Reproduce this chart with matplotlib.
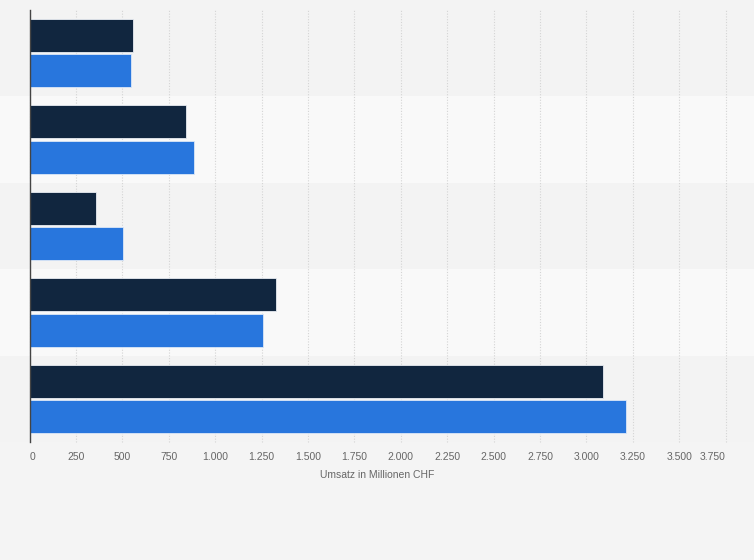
import numpy as np
import matplotlib
matplotlib.use("Agg")
import matplotlib.pyplot as plt
from matplotlib.patches import Rectangle
from matplotlib.transforms import blended_transform_factory
from matplotlib.ticker import FuncFormatter

plt.rcParams['font.family'] = ['Liberation Sans', 'DejaVu Sans']

# values (Mio. CHF)
series_a = [558, 845, 358, 1328, 3090]   # dark
series_b = [548, 887, 505, 1258, 3215]   # blue
n_groups = len(series_a)
xticks = [0, 250, 500, 750, 1000, 1250, 1500, 1750, 2000, 2250, 2500, 2750, 3000, 3250, 3500, 3750]

dark = '#11263f'
blue = '#2876dd'

fig = plt.figure(figsize=(7.54, 5.6), dpi=100)
fig.patch.set_facecolor('#f4f4f4')
ax = fig.add_axes([29.5 / 754, (560 - 442) / 560, (725.7 - 29.5) / 754, 432 / 560])
ax.set_facecolor('none')

# alternating bands across full width
tr = blended_transform_factory(fig.transFigure, ax.transData)
for i in range(n_groups):
    col = '#f3f3f3' if i % 2 == 0 else '#f9f9f9'
    top = i - 0.5 if i > 0 else -0.62
    ax.add_patch(Rectangle((0, top), 1, (i + 0.5) - top, transform=tr,
                           facecolor=col, edgecolor='none', clip_on=False, zorder=0))

y = np.arange(n_groups)
h = 0.38
ax.barh(y - 0.205, series_a, height=h, color=dark, edgecolor='#e8ecf2', linewidth=0.6, zorder=3)
ax.barh(y + 0.205, series_b, height=h, color=blue, edgecolor='#dbe7f7', linewidth=0.6, zorder=3)

ax.set_xlim(0, 3750)
ax.set_ylim(n_groups - 0.5, -0.5)
ax.set_xticks(xticks)
ax.xaxis.set_major_formatter(FuncFormatter(lambda v, p: f"{int(v):,}".replace(',', '.')))
ax.set_yticks([])
ax.grid(axis='x', color='#d4d4d4', linestyle=(0, (1, 1.5)), linewidth=0.8, zorder=1)
for gl in ax.get_xgridlines():
    gl.set_clip_on(False)
ax.tick_params(axis='x', length=0, pad=7, labelsize=7.5, labelcolor='#666666')
for s in ['top', 'right', 'bottom']:
    ax.spines[s].set_visible(False)
ax.spines['left'].set_color('#444444')
ax.spines['left'].set_linewidth(1.0)
ax.spines['left'].set_zorder(4)
labels = ax.get_xticklabels()
labels[0].set_horizontalalignment('left')
labels[-1].set_horizontalalignment('right')

ax.set_xlabel('Umsatz in Millionen CHF', fontsize=7.5, color='#666666', labelpad=6)

fig.savefig('out.png', dpi=100, facecolor=fig.get_facecolor())
